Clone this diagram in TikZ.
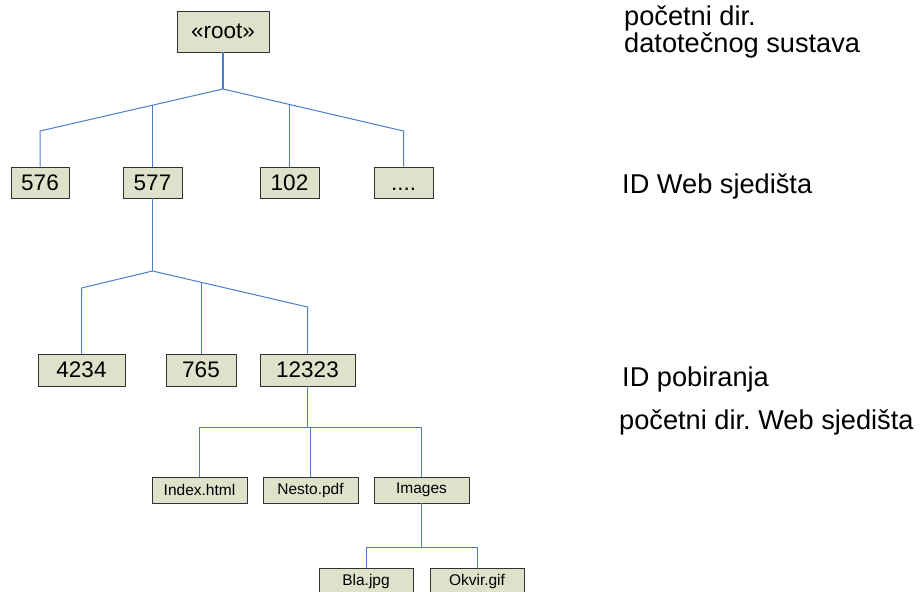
\documentclass[tikz,border=0pt]{standalone}
\usepackage{fontspec}
\setmainfont{Liberation Sans}
\frenchspacing
\definecolor{boxfill}{RGB}{223,225,202}
\definecolor{boxline}{RGB}{50,50,50}
\definecolor{linkblue}{RGB}{78,124,200}
\tikzset{
  dirbox/.style={draw=boxline, line width=0.9pt, fill=boxfill, inner sep=0pt, font=\fontsize{22.5}{26}\selectfont},
  filebox/.style={draw=boxline, line width=0.9pt, fill=boxfill, inner sep=0pt, minimum width=95pt, minimum height=26pt, font=\fontsize{15.5}{18}\selectfont},
  link/.style={draw=linkblue, line width=1pt},
  stem/.style={draw=linkblue, line width=1.4pt},
  note/.style={anchor=base west, inner sep=0pt, font=\fontsize{27.2}{28}\selectfont}
}
\begin{document}
\begin{tikzpicture}[x=1pt,y=-1pt]
\useasboundingbox (0,0) rectangle (922,592);
% level 0
\node[dirbox, minimum width=92pt, minimum height=41pt] (root) at (223,31.5) {«root»};
% level 1
\node[dirbox, minimum width=58pt, minimum height=31pt] (n576) at (40,182.5) {576};
\node[dirbox, minimum width=59pt, minimum height=31pt] (n577) at (152.5,182.5) {577};
\node[dirbox, minimum width=59pt, minimum height=31pt] (n102) at (289.5,182.5) {102};
\node[dirbox, minimum width=59pt, minimum height=31pt] (ndots) at (403.5,182.5) {\vphantom{0}....};
% level 2
\node[dirbox, minimum width=87pt, minimum height=32pt] (n4234) at (81.5,370) {4234};
\node[dirbox, minimum width=70pt, minimum height=32pt] (n765) at (201,370) {765};
\node[dirbox, minimum width=95pt, minimum height=32pt] (n12323) at (307.5,370) {12323};
% level 3
\node[filebox] (nindex) at (199.5,490) {Index.html};
\node[filebox] (nnesto) at (310.5,490) {Nesto.pdf};
\node[filebox] (nimages) at (421.5,490) {Images};
% level 4
\node[filebox, minimum width=94pt] (nbla) at (366,581) {Bla.jpg};
\node[filebox, minimum width=94pt] (nokvir) at (477,581) {Okvir.gif};
% junctions
\coordinate (j0) at (223,89);
\coordinate (a576) at (40,131);
\coordinate (adots) at (403.5,131);
\coordinate (b577) at (152.5,105.2);
\coordinate (b102) at (289.5,104.5);
\coordinate (j1) at (152.5,271);
\coordinate (a4234) at (81.5,288);
\coordinate (a12323) at (307.5,307);
\coordinate (b765) at (201,282.3);
\coordinate (j2) at (307.5,427);
\coordinate (aindex) at (199.5,427);
\coordinate (aimages) at (421.5,427);
\coordinate (bnesto) at (310.5,427);
\coordinate (j3) at (421.5,547);
\coordinate (abla) at (366,547);
\coordinate (aokvir) at (477,547);
% connectors
\draw[stem] (root.south) -- (j0);
\draw[link] (n576.north) -- (a576) -- (j0) -- (adots) -- (ndots.north);
\draw[link] (b577) -- (n577.north);
\draw[link] (b102) -- (n102.north);
\draw[stem] (n577.south) -- (j1);
\draw[link] (n4234.north) -- (a4234) -- (j1) -- (a12323) -- (n12323.north);
\draw[link] (b765) -- (n765.north);
\draw[stem] (n12323.south) -- (j2);
\draw[link] (nindex.north) -- (aindex) -- (aimages) -- (nimages.north);
\draw[link] (bnesto) -- (nnesto.north);
\draw[stem] (nimages.south) -- (j3);
\draw[link] (nbla.north) -- (abla) -- (aokvir) -- (nokvir.north);
% notes
\node[note] (t1) at (624,25) {početni dir.};
\node[note] (t2) at (624,52) {datotečnog sustava};
\node[note] (t3) at (622,193) {ID Web sjedišta};
\node[note] (t4) at (622,386) {ID pobiranja};
\node[note] (t5) at (619,429) {početni dir. Web sjedišta};
\end{tikzpicture}
\end{document}
